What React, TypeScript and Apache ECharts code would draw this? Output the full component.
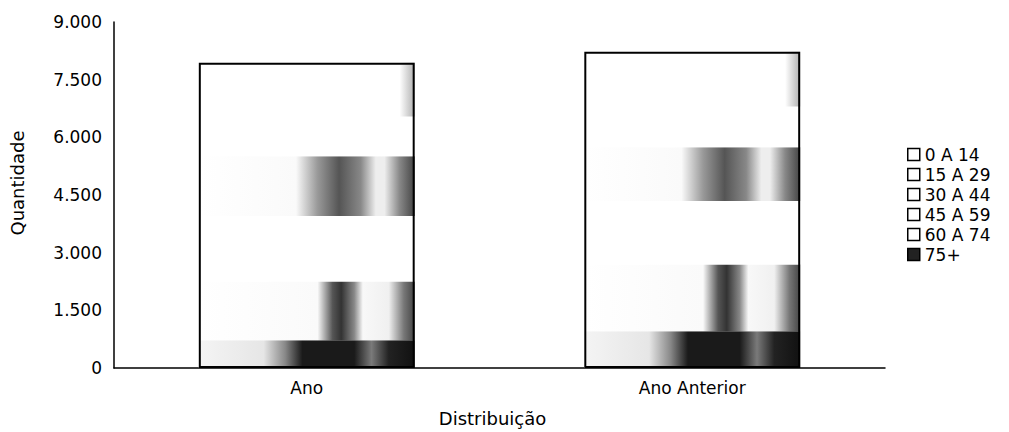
import React, { useEffect, useRef } from "react";
import * as echarts from "echarts";

const categories = ["Ano", "Ano Anterior"];
const ageGroups = ["0 A 14", "15 A 29", "30 A 44", "45 A 59", "60 A 74", "75+"];
const g0a14 = [724, 957];
const g15a29 = [1526, 1733];
const g30a44 = [1707, 1655];
const g45a59 = [1552, 1396];
const g60a74 = [1034, 1061];
const g75mais = [1397, 1422];
const groupValues = [g0a14, g15a29, g30a44, g45a59, g60a74, g75mais];
const yTicks = { min: 0, max: 9000, interval: 1500 };

const FONT = "DejaVu Sans";

const grad = (stops: [number, string][]) => ({
  type: "linear",
  x: 0,
  y: 0,
  x2: 1,
  y2: 0,
  colorStops: stops.map(([offset, color]) => ({ offset, color })),
});

const fills = [
  grad([
    [0, "#f4f4f4"],
    [0.3, "#e6e6e6"],
    [0.4, "#888888"],
    [0.48, "#1a1a1a"],
    [0.72, "#1a1a1a"],
    [0.8, "#7a7a7a"],
    [0.88, "#222222"],
    [1, "#111111"],
  ]),
  grad([
    [0, "#ffffff"],
    [0.55, "#fafafa"],
    [0.62, "#555555"],
    [0.66, "#333333"],
    [0.72, "#888888"],
    [0.76, "#f8f8f8"],
    [0.88, "#f0f0f0"],
    [0.95, "#777777"],
    [1, "#444444"],
  ]),
  "#ffffff",
  grad([
    [0, "#ffffff"],
    [0.45, "#fafafa"],
    [0.55, "#999999"],
    [0.65, "#555555"],
    [0.75, "#888888"],
    [0.82, "#eeeeee"],
    [0.86, "#eeeeee"],
    [0.93, "#888888"],
    [1, "#444444"],
  ]),
  "#ffffff",
  grad([
    [0, "#ffffff"],
    [0.93, "#ffffff"],
    [1, "#b0b0b0"],
  ]),
];

const legendFills = ["#ffffff", "#ffffff", "#ffffff", "#ffffff", "#ffffff", "#222222"];

const fmt = (v: number) => {
  const s = String(Math.round(v));
  return s.replace(/\B(?=(\d{3})+(?!\d))/g, ".");
};

export default function App() {
  const ref = useRef<HTMLDivElement>(null);
  useEffect(() => {
    if (!ref.current) return;
    const chart = echarts.init(ref.current, null, { renderer: "svg" });
    const totals = categories.map((_, i) =>
      groupValues.reduce((acc, arr) => acc + arr[i], 0)
    );
    const series: any[] = ageGroups.map((name, k) => ({
      name,
      type: "bar",
      stack: "total",
      barWidth: "56%",
      data: groupValues[k],
      itemStyle: { color: fills[k] },
      emphasis: { disabled: true },
    }));
    series.push({
      name: "__outline",
      type: "bar",
      barWidth: "56%",
      barGap: "-100%",
      data: totals,
      silent: true,
      z: 5,
      itemStyle: { color: "rgba(0,0,0,0)", borderColor: "#000", borderWidth: 2 },
    });
    chart.setOption({
      animation: false,
      backgroundColor: "#ffffff",
      textStyle: { fontFamily: FONT, color: "#000" },
      grid: { left: 113, right: 124, top: 22, bottom: 62, containLabel: false },
      legend: {
        orient: "vertical",
        left: 902,
        top: 141,
        itemWidth: 12,
        itemHeight: 12,
        itemGap: 3,
        icon: "rect",
        textStyle: { fontFamily: FONT, fontSize: 17, color: "#000", lineHeight: 17 },
        data: ageGroups.map((name, k) => ({
          name,
          itemStyle: { color: legendFills[k], borderColor: "#000", borderWidth: 1.5 },
        })),
      },
      xAxis: {
        type: "category",
        data: categories,
        name: "Distribuição",
        nameLocation: "middle",
        nameGap: 41,
        nameTextStyle: { fontFamily: FONT, fontSize: 18, color: "#000", padding: [0, 14, 0, 0] },
        axisLine: { lineStyle: { color: "#000", width: 1.5 } },
        axisTick: { show: false },
        axisLabel: { fontFamily: FONT, fontSize: 17, color: "#000", margin: 11 },
      },
      yAxis: {
        type: "value",
        min: yTicks.min,
        max: yTicks.max,
        interval: yTicks.interval,
        name: "Quantidade",
        nameLocation: "middle",
        nameGap: 88,
        nameTextStyle: { fontFamily: FONT, fontSize: 18, color: "#000", padding: [0, 0, 0, 24] },
        axisLine: { show: true, lineStyle: { color: "#000", width: 1.5 } },
        axisTick: { show: false },
        splitLine: { show: false },
        axisLabel: {
          fontFamily: FONT,
          fontSize: 17,
          color: "#000",
          margin: 12,
          formatter: (v: number) => fmt(v),
        },
      },
      series,
    });
    return () => chart.dispose();
  }, []);
  return <div ref={ref} style={{ width: 1009, height: 432, position: "absolute", left: 0, top: 0 }} />;
}
